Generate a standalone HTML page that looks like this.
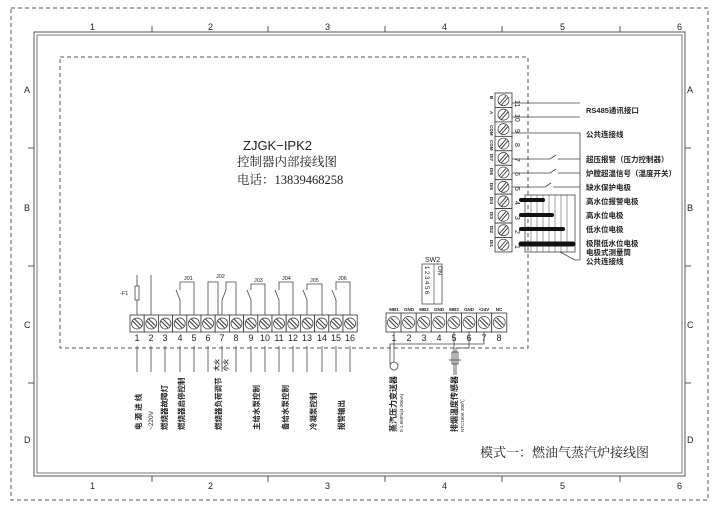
<!DOCTYPE html>
<html><head><meta charset="utf-8"><style>
html,body{margin:0;padding:0;background:#fff}
svg{display:block}
text{font-family:"Liberation Sans","Noto Sans CJK SC",sans-serif;fill:#222}
.cj{font-family:"Noto Sans CJK SC",sans-serif;font-weight:bold}
.sf{font-family:"Liberation Serif","Noto Serif CJK SC",serif}
</style></head><body>
<svg width="720" height="509" viewBox="0 0 720 509" xmlns="http://www.w3.org/2000/svg">
<defs>
<g id="hc"><rect x="0" y="0" width="14.2" height="17" fill="#fff" stroke="#333" stroke-width="0.8"/><circle cx="7.1" cy="8.5" r="5.5" fill="none" stroke="#333" stroke-width="0.7"/><line x1="2.5" y1="6" x2="9.5" y2="13" stroke="#333" stroke-width="0.9"/><line x1="4.5" y1="4" x2="11.5" y2="11" stroke="#333" stroke-width="0.9"/></g>
<g id="hc2"><rect x="0" y="0" width="15.1" height="19" fill="#fff" stroke="#333" stroke-width="0.8"/><circle cx="7.5" cy="9.5" r="6" fill="none" stroke="#333" stroke-width="0.7"/><line x1="3" y1="7" x2="10" y2="14" stroke="#333" stroke-width="0.9"/><line x1="5" y1="5" x2="12" y2="12" stroke="#333" stroke-width="0.9"/></g>
<g id="hc3"><rect x="0" y="0" width="17" height="14.45" fill="#fff" stroke="#333" stroke-width="0.8"/><circle cx="8.5" cy="7.2" r="5.5" fill="none" stroke="#333" stroke-width="0.7"/><line x1="4" y1="11" x2="11" y2="3" stroke="#333" stroke-width="0.9"/><line x1="6" y1="12.5" x2="13" y2="4.5" stroke="#333" stroke-width="0.9"/></g>
</defs>
<g fill="none" stroke="#555">
<rect x="11" y="8" width="697" height="492" stroke-dasharray="4,3" stroke-width="1"/>
<rect x="34" y="32" width="651" height="444" stroke-width="1"/>
<rect x="37" y="35" width="645" height="438" stroke-width="0.8"/>
<rect x="60" y="57" width="468" height="291" stroke-dasharray="4,3" stroke-width="1"/>
<path d="M152 26V32M268 26V32M385 26V32M502 26V32M620 26V32M152 476V482M268 476V482M385 476V482M502 476V482M620 476V482M28 148H34M28 266H34M28 383H34M685 148H691M685 266H691M685 383H691"/>
</g>
<g font-size="9">
<text x="90" y="30">1</text><text x="208" y="30">2</text><text x="325" y="30">3</text><text x="442" y="30">4</text><text x="560" y="30">5</text><text x="677" y="30">6</text>
<text x="90" y="489">1</text><text x="208" y="489">2</text><text x="325" y="489">3</text><text x="442" y="489">4</text><text x="560" y="489">5</text><text x="677" y="489">6</text>
<text x="24" y="93">A</text><text x="24" y="211">B</text><text x="24" y="328">C</text><text x="24" y="443">D</text>
<text x="687" y="93">A</text><text x="687" y="211">B</text><text x="687" y="328">C</text><text x="687" y="443">D</text>
</g>
<text x="243" y="150" font-size="13">ZJGK−IPK2</text>
<text x="237" y="166" font-size="12.5" class="sf">控制器内部接线图</text>
<text x="237" y="184" font-size="12.5" class="sf">电话：13839468258</text>
<text x="480" y="457" font-size="13" class="sf">模式一：燃油气蒸汽炉接线图</text>

<g>
<use href="#hc" x="130" y="315"/><use href="#hc" x="144.2" y="315"/><use href="#hc" x="158.4" y="315"/><use href="#hc" x="172.6" y="315"/>
<use href="#hc" x="186.8" y="315"/><use href="#hc" x="201" y="315"/><use href="#hc" x="215.2" y="315"/><use href="#hc" x="229.4" y="315"/>
<use href="#hc" x="243.6" y="315"/><use href="#hc" x="257.8" y="315"/><use href="#hc" x="272" y="315"/><use href="#hc" x="286.2" y="315"/>
<use href="#hc" x="300.4" y="315"/><use href="#hc" x="314.6" y="315"/><use href="#hc" x="328.8" y="315"/><use href="#hc" x="343" y="315"/>
</g>
<g font-size="9" text-anchor="middle">
<text x="137" y="341">1</text><text x="151" y="341">2</text><text x="165" y="341">3</text><text x="180" y="341">4</text><text x="194" y="341">5</text><text x="208" y="341">6</text><text x="222" y="341">7</text><text x="236" y="341">8</text><text x="251" y="341">9</text><text x="265" y="341">10</text><text x="279" y="341">11</text><text x="293" y="341">12</text><text x="307" y="341">13</text><text x="322" y="341">14</text><text x="336" y="341">15</text><text x="350" y="341">16</text>
</g>
<g stroke="#444" stroke-width="0.8" fill="none">
<path d="M137 346V372M151 346V372M165 346V372M180 346V372M194 346V372M208 346V372M222 346V372M236 346V372M251 346V372M265 346V372M279 346V372M293 346V372M307 346V372M322 346V372M336 346V372M350 346V372"/>
<path d="M137 315V300M137 286V275M151 315V275"/>
<rect x="135" y="286" width="4" height="14"/>
<path d="M180 315V300L176 290M180 290V282H194V315"/>
<path d="M208 315V282H218V315M222 315V300L226 290M226 290V282H236V315"/>
<path d="M251 315V300L247 290M251 290V284H265V315"/>
<path d="M279 315V300L275 290M279 290V282H293V315"/>
<path d="M307 315V300L303 290M307 290V284H322V315"/>
<path d="M336 315V300L332 290M336 290V282H350V315"/>
</g>
<g font-size="5.5">
<text x="120" y="295">-F1</text>
<text x="184" y="280">J01</text><text x="216" y="278">J02</text><text x="254" y="282">J03</text><text x="282" y="280">J04</text><text x="310" y="282">J05</text><text x="338" y="280">J06</text>
</g>
<g font-size="7.5" class="cj">
<text transform="translate(141,430) rotate(-90)">电  源  进  线</text>
<text transform="translate(153,430) rotate(-90)" font-weight="normal" font-size="6.5">~220V</text>
<text transform="translate(167,430) rotate(-90)">燃烧器故障灯</text>
<text transform="translate(184,430) rotate(-90)">燃烧器启停控制</text>
<text transform="translate(221,430) rotate(-90)">燃烧器负荷调节</text>
<text transform="translate(219,371) rotate(-90)" font-size="6">大火</text>
<text transform="translate(228,371) rotate(-90)" font-size="6">小火</text>
<text transform="translate(259,430) rotate(-90)">主给水泵控制</text>
<text transform="translate(288,430) rotate(-90)">备给水泵控制</text>
<text transform="translate(316,430) rotate(-90)">冷凝泵控制</text>
<text transform="translate(344,430) rotate(-90)">报警输出</text>
</g>

<g>
<use href="#hc2" x="386" y="313"/><use href="#hc2" x="401.1" y="313"/><use href="#hc2" x="416.2" y="313"/><use href="#hc2" x="431.3" y="313"/>
<use href="#hc2" x="446.4" y="313"/><use href="#hc2" x="461.5" y="313"/><use href="#hc2" x="476.6" y="313"/><use href="#hc2" x="491.7" y="313"/>
</g>
<g font-size="4.5" font-weight="bold" text-anchor="middle">
<text x="394" y="311">MB1</text><text x="409" y="311">GND</text><text x="424" y="311">MB2</text><text x="439" y="311">GND</text><text x="454" y="311">MB3</text><text x="469" y="311">GND</text><text x="484" y="311">+24V</text><text x="499" y="311">NC</text>
</g>
<g font-size="9" text-anchor="middle">
<text x="394" y="341">1</text><text x="409" y="341">2</text><text x="424" y="341">3</text><text x="439" y="341">4</text><text x="454" y="341">5</text><text x="469" y="341">6</text><text x="484" y="341">7</text><text x="499" y="341">8</text>
</g>
<rect x="422" y="264" width="20" height="40" fill="#fff" stroke="#333" stroke-width="0.7"/>
<line x1="434" y1="264" x2="434" y2="304" stroke="#333" stroke-width="0.6"/>
<text x="425" y="262" font-size="7">SW2</text>
<g font-size="6" transform="translate(424,266) rotate(90)"><text x="0" y="-1">1 2 3 4 5 6</text></g>
<g font-size="6" transform="translate(437,266) rotate(90)"><text x="0" y="-1">ON</text></g>
<g stroke="#444" stroke-width="0.8" fill="none">
<path d="M394 332V362"/>
<path d="M484 332V344H390V364"/>
<path d="M469 332V348H456V375"/>
<path d="M454 332V375"/>
<rect x="452" y="352" width="6" height="12"/>
<path d="M449 360H461"/>
<circle cx="394" cy="366" r="4"/>
</g>
<g font-size="8" class="cj">
<text transform="translate(396,432) rotate(-90)">蒸汽压力变送器</text>
<text transform="translate(457,432) rotate(-90)">排烟温度传感器</text>
</g>
<g font-size="4.5">
<text transform="translate(403,432) rotate(-90)">0-1.6MPa(4-20mA)</text>
<text transform="translate(464,432) rotate(-90)">NTC100K 300℃</text>
</g>

<g>
<use href="#hc3" x="495" y="93"/><use href="#hc3" x="495" y="107.45"/><use href="#hc3" x="495" y="121.9"/><use href="#hc3" x="495" y="136.35"/>
<use href="#hc3" x="495" y="150.8"/><use href="#hc3" x="495" y="165.25"/><use href="#hc3" x="495" y="179.7"/><use href="#hc3" x="495" y="194.15"/>
<use href="#hc3" x="495" y="208.6"/><use href="#hc3" x="495" y="223.05"/><use href="#hc3" x="495" y="237.5"/>
</g>
<g font-size="7">
<text transform="translate(515,100) rotate(90)">11</text><text transform="translate(515,114) rotate(90)">10</text><text transform="translate(515,129) rotate(90)">9</text><text transform="translate(515,143) rotate(90)">8</text><text transform="translate(515,158) rotate(90)">7</text><text transform="translate(515,172) rotate(90)">6</text><text transform="translate(515,187) rotate(90)">5</text><text transform="translate(515,201) rotate(90)">4</text><text transform="translate(515,216) rotate(90)">3</text><text transform="translate(515,230) rotate(90)">2</text><text transform="translate(515,245) rotate(90)">1</text>
</g>
<g font-size="4.5" font-weight="bold">
<text transform="translate(490,96) rotate(90)">B</text><text transform="translate(490,111) rotate(90)">A</text><text transform="translate(490,125) rotate(90)">COM</text><text transform="translate(490,140) rotate(90)">COM</text><text transform="translate(490,154) rotate(90)">DI7</text><text transform="translate(490,168) rotate(90)">DI6</text><text transform="translate(490,183) rotate(90)">DI5</text><text transform="translate(490,197) rotate(90)">DI4</text><text transform="translate(490,212) rotate(90)">DI3</text><text transform="translate(490,226) rotate(90)">DI2</text><text transform="translate(490,240) rotate(90)">DI1</text>
</g>
<g stroke="#444" stroke-width="0.8" fill="none">
<path d="M512 103H580M512 117H580M512 133H580V260"/>
<path d="M512 159H550L556 155M558 159H580M512 173H550L556 169M558 173H580M512 187H545L551 183M553 187H580"/>
<rect x="525" y="195" width="50" height="57"/>
<path d="M531 195V252M537 195V252M543 195V252M549 195V252M555 195V252M561 195V252M567 195V252" stroke-width="0.5"/>
<path d="M560 252L575 260H580"/>
</g>
<g stroke="#111" stroke-linecap="round">
<line x1="521" y1="200" x2="543" y2="200" stroke-width="4"/>
<line x1="521" y1="215" x2="552" y2="215" stroke-width="4"/>
<line x1="521" y1="229" x2="563" y2="229" stroke-width="4"/>
<line x1="521" y1="244" x2="573" y2="244" stroke-width="5"/>
</g>
<g font-size="7.5" class="cj">
<text x="586" y="113">RS485通讯接口</text>
<text x="586" y="137">公共连接线</text>
<text x="586" y="162">超压报警（压力控制器）</text>
<text x="586" y="176">炉膛超温信号（温度开关）</text>
<text x="586" y="190">缺水保护电极</text>
<text x="586" y="204">高水位报警电极</text>
<text x="586" y="218">高水位电极</text>
<text x="586" y="232">低水位电极</text>
<text x="586" y="246">极限低水位电极</text>
<text x="586" y="255">电极式测量筒</text>
<text x="586" y="264">公共连接线</text>
</g>
</svg>
</body></html>
